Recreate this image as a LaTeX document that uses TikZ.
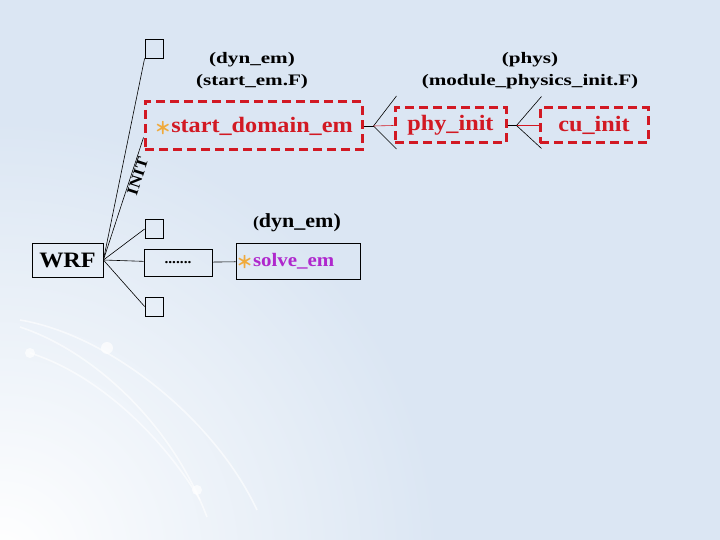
\documentclass[tikz,border=0pt]{standalone}
\usepackage{fontspec}
\setmainfont{Liberation Serif}[FakeStretch=1.1]
\newfontfamily\widefont{Liberation Serif}[FakeStretch=1.32]
\newfontfamily\symfont{Noto Sans CJK SC}
\usetikzlibrary{positioning,calc}
\definecolor{cBack}{RGB}{219,230,243}
\definecolor{cRed} {RGB}{210,25,35}
\definecolor{cPurp}{RGB}{175,40,205}
\definecolor{cStar}{RGB}{240,170,60}
\newcommand{\astr}{{\symfont\color{cStar}\fontsize{17}{17}\selectfont\raisebox{-2pt}{＊}}}
\tikzset{
  unit/.style={draw,minimum width=18pt,minimum height=19pt,inner sep=0pt,
               line width=0.8pt},
  rootbox/.style={unit,minimum width=71pt,minimum height=34pt,
                  font=\fontsize{22}{24}\selectfont\bfseries},
  dotbox/.style={unit,minimum width=68pt,minimum height=27pt,
                 font=\fontsize{14}{16}\selectfont\bfseries},
  solvebox/.style={unit,text width=124pt,minimum height=36pt,align=left,
                   font=\fontsize{19}{24}\selectfont\bfseries,text=cPurp},
  initbox/.style={draw=cRed,line width=3pt,dash pattern=on 9pt off 5pt,
                  minimum height=48pt,inner sep=0pt,
                  font=\fontsize{22}{24}\selectfont\bfseries,text=cRed},
  src/.style={font=\widefont\fontsize{16}{22}\selectfont\bfseries,align=center},
  link/.style={line width=0.6pt},
  swirl/.style={white,opacity=0.6,line width=1.6pt},
}
\begin{document}
\begin{tikzpicture}[x=1pt,y=-1pt]
  \useasboundingbox (0,0) rectangle (720,540);
  % background
  \fill[cBack] (0,0) rectangle (720,540);
  \begin{scope}
    \clip (0,0) rectangle (720,540);
    \shade[inner color=white,outer color=cBack] (0,560) circle (440);
  \end{scope}
  \draw[swirl] (20,320) .. controls (110,335) and (215,420) .. (257,510);
  \draw[swirl] (20,327) .. controls (90,350) and (170,420) .. (207,517);
  \draw[swirl] (30,353) .. controls (100,375) and (165,440) .. (200,500);
  \fill[white,opacity=0.7] (107,348) circle (6);
  \fill[white,opacity=0.7] (30,353) circle (5);
  \fill[white,opacity=0.7] (197,490) circle (5);

  % tree
  \node[rootbox] (wrf) at (67.5,260) {WRF};
  \node[unit] (topbox) at (154,48.5) {};
  \node[unit] (midbox) at (154,229) {};
  \node[unit] (lowbox) at (154,306.5) {};
  \node[dotbox] (dots) at (178,262.5) {.......};
  \node[solvebox] (solve) at (298,261) {\astr solve\_em};
  \node[initbox,minimum width=217pt] (sdem) at (253.5,126) {\astr start\_domain\_em};
  \node[initbox,minimum width=111pt,minimum height=35pt] (phyinit) at (450.5,125.5) {phy\_init};
  \node[initbox,minimum width=108pt,minimum height=35pt] (cuinit) at (594,125.5) {cu\_init};
  % source files
  \node[src] (dynsrc) at (252,71) {(dyn\_em)\\(start\_em.F)};
  \node[src] (physrc) at (530,71) {(phys)\\(module\_physics\_init.F)};
  \node[font=\fontsize{20}{24}\selectfont\bfseries] (dynsolve) at (297,223)
    {{\fontsize{16}{16}\selectfont(}dyn\_em)};

  \draw[link] (wrf.east) -- (topbox.south west);
  \draw[link] (wrf.east) -- node[sloped,below,pos=0.7,inner sep=1pt,
    font=\fontsize{16}{18}\selectfont\bfseries]{INIT} (sdem.186);
  \draw[link] (wrf.east) -- (midbox.west);
  \draw[link] (wrf.east) -- (dots);
  \draw[link] (wrf.east) -- (lowbox.west);
  \draw[link] (dots) -- (solve);

  % forks
  \coordinate (f1) at ($(sdem.east)+(10,0)$);
  \coordinate (f1u) at ($(f1)+(23,-30)$);
  \coordinate (f1d) at ($(f1)+(23,23)$);
  \coordinate (f2) at ($(phyinit.east)+(9,0)$);
  \coordinate (f2u) at ($(f2)+(25,-29)$);
  \coordinate (f2d) at ($(f2)+(25,23)$);
  \draw[link] (sdem.east) -- (f1);
  \draw[link] (f1u) -- (f1) -- (f1d);
  \draw[link,cRed] (f1) -- (phyinit.west);
  \draw[link] (phyinit.east) -- (f2);
  \draw[link] (f2u) -- (f2) -- (f2d);
  \draw[link,cRed] (f2) -- (cuinit.west);
\end{tikzpicture}
\end{document}
